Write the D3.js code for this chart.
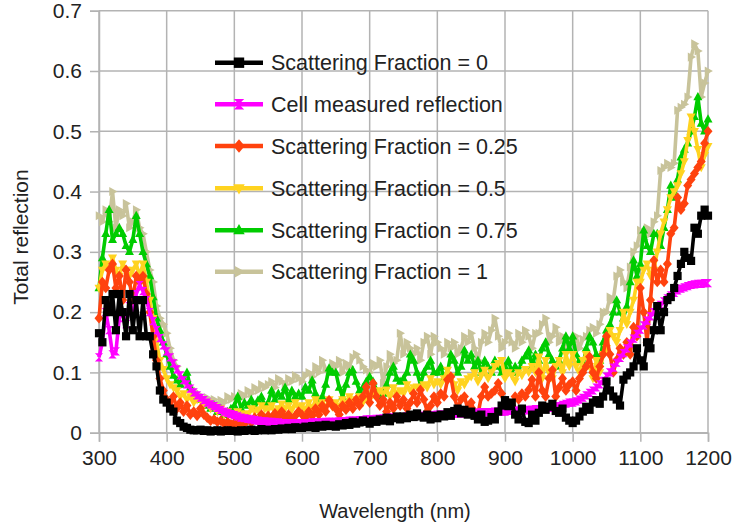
<!DOCTYPE html>
<html>
<head>
<meta charset="utf-8">
<script src="https://cdn.jsdelivr.net/npm/d3@7/dist/d3.min.js"></script>
<style>
  html, body { margin: 0; padding: 0; background: #fff; }
  svg { display: block; font-family: "Liberation Sans", Arial, sans-serif; }
</style>
</head>
<body>
<svg id="chart" width="732" height="528"></svg>
<script>
// Wavelength grid of the simulated / measured spectra (nm)
const wavelength = d3.range(300, 1201, 5);

const xTicks = [300, 400, 500, 600, 700, 800, 900, 1000, 1100, 1200];
const yTicks = [0, 0.1, 0.2, 0.3, 0.4, 0.5, 0.6, 0.7];

// Total reflection, scattering fraction = 0
const sf0 = [
  0.165,0.15,0.22,0.20,0.23,0.17,0.23,0.20,0.16,0.23,
  0.17,0.22,0.16,0.22,0.16,0.16,0.13,0.11,0.07,0.055,
  0.05,0.04,0.035,0.02,0.016,0.01,0.008,0.005,0.004,0.004,
  0.005,0.003,0.004,0.002,0.003,0.004,0.002,0.003,0.004,0.003,
  0.003,0.002,0.004,0.003,0.004,0.005,0.003,0.004,0.006,0.004,
  0.005,0.004,0.006,0.005,0.007,0.006,0.008,0.006,0.009,0.008,
  0.008,0.01,0.009,0.011,0.008,0.012,0.01,0.013,0.011,0.012,
  0.01,0.014,0.012,0.016,0.013,0.018,0.015,0.017,0.02,0.018,
  0.015,0.02,0.018,0.022,0.02,0.025,0.019,0.024,0.027,0.022,
  0.027,0.024,0.03,0.026,0.032,0.027,0.025,0.03,0.022,0.028,
  0.024,0.03,0.027,0.034,0.028,0.036,0.04,0.032,0.038,0.03,
  0.035,0.028,0.022,0.03,0.018,0.02,0.026,0.022,0.035,0.045,
  0.054,0.044,0.05,0.03,0.022,0.04,0.018,0.016,0.03,0.02,
  0.033,0.045,0.038,0.043,0.048,0.036,0.033,0.04,0.025,0.02,
  0.016,0.02,0.027,0.035,0.043,0.038,0.05,0.054,0.048,0.06,
  0.085,0.07,0.06,0.055,0.045,0.088,0.095,0.1,0.11,0.14,
  0.12,0.11,0.15,0.14,0.17,0.21,0.17,0.2,0.22,0.225,
  0.24,0.26,0.28,0.30,0.29,0.285,0.34,0.33,0.36,0.37,
  0.36
];

// Measured reflection of the cell
const measured = [
  0.125,0.15,0.2,0.17,0.13,0.135,0.19,0.2,0.18,0.21,
  0.2,0.23,0.245,0.235,0.22,0.2,0.185,0.17,0.157,0.145,
  0.135,0.125,0.115,0.105,0.095,0.087,0.08,0.073,0.067,0.062,
  0.058,0.054,0.05,0.047,0.044,0.041,0.038,0.035,0.033,0.031,
  0.029,0.027,0.025,0.024,0.023,0.022,0.021,0.02,0.019,0.019,
  0.018,0.018,0.017,0.017,0.016,0.016,0.016,0.016,0.016,0.016,
  0.016,0.016,0.016,0.017,0.017,0.017,0.017,0.018,0.018,0.018,
  0.018,0.019,0.019,0.019,0.02,0.02,0.02,0.021,0.021,0.022,
  0.022,0.022,0.023,0.023,0.024,0.024,0.025,0.025,0.025,0.026,
  0.026,0.027,0.027,0.027,0.028,0.028,0.028,0.029,0.029,0.029,
  0.03,0.03,0.03,0.031,0.031,0.031,0.032,0.032,0.032,0.033,
  0.033,0.033,0.033,0.034,0.034,0.034,0.034,0.035,0.035,0.035,
  0.035,0.036,0.036,0.036,0.037,0.037,0.037,0.038,0.038,0.039,
  0.039,0.04,0.04,0.041,0.042,0.043,0.044,0.046,0.048,0.05,
  0.05,0.052,0.055,0.058,0.062,0.066,0.07,0.075,0.08,0.086,
  0.093,0.1,0.108,0.116,0.124,0.132,0.14,0.148,0.156,0.164,
  0.171,0.178,0.186,0.193,0.2,0.206,0.212,0.218,0.223,0.228,
  0.232,0.236,0.239,0.241,0.243,0.245,0.246,0.247,0.247,0.248,
  0.248
];

// Scattering fraction = 0.25
const sf025 = [
  0.19,0.25,0.24,0.27,0.28,0.24,0.26,0.22,0.27,0.25,
  0.22,0.26,0.25,0.26,0.23,0.2,0.16,0.12,0.09,0.07,
  0.055,0.045,0.06,0.04,0.05,0.035,0.045,0.03,0.035,0.028,
  0.04,0.03,0.025,0.02,0.022,0.018,0.02,0.015,0.018,0.014,
  0.016,0.014,0.018,0.015,0.022,0.017,0.025,0.02,0.03,0.022,
  0.028,0.024,0.032,0.026,0.035,0.025,0.03,0.022,0.028,0.035,
  0.03,0.025,0.035,0.028,0.04,0.03,0.045,0.035,0.054,0.045,
  0.04,0.03,0.045,0.038,0.05,0.04,0.055,0.045,0.06,0.076,
  0.05,0.082,0.06,0.045,0.055,0.035,0.05,0.04,0.06,0.045,
  0.055,0.04,0.05,0.065,0.05,0.071,0.055,0.035,0.045,0.06,
  0.05,0.065,0.06,0.088,0.093,0.06,0.04,0.055,0.06,0.04,
  0.05,0.035,0.03,0.06,0.076,0.06,0.065,0.07,0.082,0.065,
  0.04,0.05,0.045,0.06,0.055,0.065,0.06,0.071,0.088,0.06,
  0.1,0.07,0.06,0.09,0.104,0.06,0.075,0.09,0.07,0.08,
  0.085,0.07,0.09,0.1,0.11,0.126,0.1,0.09,0.11,0.13,
  0.16,0.13,0.1,0.12,0.14,0.13,0.15,0.13,0.175,0.16,
  0.24,0.2,0.15,0.22,0.286,0.25,0.27,0.25,0.28,0.33,
  0.34,0.39,0.37,0.38,0.41,0.42,0.43,0.44,0.45,0.48,
  0.5
];

// Scattering fraction = 0.5
const sf05 = [
  0.24,0.27,0.28,0.27,0.29,0.27,0.26,0.28,0.27,0.26,
  0.27,0.28,0.26,0.28,0.25,0.22,0.19,0.15,0.12,0.105,
  0.09,0.08,0.075,0.07,0.06,0.065,0.055,0.06,0.05,0.055,
  0.054,0.045,0.05,0.04,0.043,0.035,0.04,0.03,0.035,0.03,
  0.03,0.035,0.028,0.032,0.03,0.04,0.035,0.038,0.045,0.04,
  0.038,0.045,0.035,0.04,0.048,0.04,0.045,0.038,0.05,0.042,
  0.045,0.038,0.05,0.04,0.055,0.045,0.05,0.042,0.055,0.043,
  0.05,0.043,0.055,0.048,0.06,0.05,0.055,0.06,0.05,0.06,
  0.055,0.065,0.06,0.07,0.065,0.071,0.06,0.075,0.065,0.07,
  0.065,0.08,0.07,0.075,0.076,0.07,0.08,0.075,0.09,0.08,
  0.085,0.08,0.09,0.104,0.093,0.08,0.07,0.085,0.08,0.09,
  0.093,0.1,0.085,0.095,0.104,0.09,0.1,0.11,0.115,0.12,
  0.09,0.1,0.095,0.085,0.1,0.095,0.105,0.1,0.11,0.1,
  0.126,0.09,0.12,0.1,0.09,0.11,0.12,0.1,0.13,0.11,
  0.13,0.11,0.1,0.12,0.13,0.11,0.09,0.12,0.1,0.13,
  0.14,0.17,0.16,0.15,0.17,0.2,0.18,0.2,0.22,0.25,
  0.25,0.27,0.28,0.26,0.27,0.3,0.33,0.35,0.37,0.39,
  0.4,0.41,0.43,0.45,0.485,0.524,0.5,0.47,0.44,0.46,
  0.475
];

// Scattering fraction = 0.75
const sf075 = [
  0.24,0.29,0.33,0.37,0.32,0.33,0.34,0.33,0.31,0.3,
  0.32,0.36,0.33,0.3,0.28,0.26,0.225,0.19,0.17,0.15,
  0.13,0.11,0.095,0.087,0.08,0.09,0.1,0.075,0.065,0.06,
  0.055,0.05,0.045,0.04,0.045,0.035,0.04,0.03,0.035,0.04,
  0.045,0.06,0.04,0.05,0.045,0.055,0.04,0.054,0.06,0.045,
  0.05,0.07,0.055,0.065,0.06,0.075,0.055,0.07,0.06,0.065,
  0.06,0.076,0.07,0.087,0.065,0.05,0.06,0.08,0.107,0.1,
  0.1,0.075,0.06,0.08,0.1,0.104,0.085,0.07,0.075,0.085,
  0.093,0.085,0.07,0.06,0.065,0.08,0.1,0.11,0.09,0.085,
  0.09,0.1,0.13,0.12,0.1,0.08,0.1,0.11,0.12,0.1,
  0.1,0.11,0.09,0.1,0.13,0.12,0.1,0.11,0.137,0.12,
  0.13,0.11,0.12,0.1,0.12,0.11,0.1,0.12,0.11,0.1,
  0.11,0.12,0.1,0.11,0.1,0.12,0.127,0.137,0.11,0.13,
  0.12,0.14,0.15,0.13,0.12,0.11,0.12,0.14,0.16,0.14,
  0.16,0.13,0.12,0.11,0.14,0.16,0.15,0.13,0.12,0.15,
  0.17,0.18,0.2,0.22,0.2,0.19,0.21,0.25,0.286,0.26,
  0.28,0.336,0.31,0.3,0.33,0.33,0.31,0.34,0.37,0.41,
  0.39,0.42,0.457,0.47,0.48,0.5,0.524,0.557,0.513,0.5,
  0.52
];

// Scattering fraction = 1
const sf1 = [
  0.36,0.35,0.37,0.35,0.4,0.34,0.37,0.36,0.38,0.34,
  0.35,0.37,0.34,0.33,0.3,0.27,0.25,0.21,0.19,0.18,
  0.165,0.14,0.12,0.11,0.09,0.08,0.085,0.075,0.07,0.065,
  0.06,0.055,0.058,0.05,0.055,0.048,0.054,0.05,0.06,0.055,
  0.06,0.055,0.065,0.06,0.07,0.065,0.075,0.07,0.08,0.075,
  0.08,0.085,0.075,0.09,0.085,0.08,0.09,0.085,0.095,0.09,
  0.085,0.095,0.1,0.093,0.11,0.1,0.12,0.105,0.1,0.115,
  0.11,0.12,0.1,0.115,0.11,0.125,0.13,0.12,0.11,0.104,
  0.1,0.115,0.11,0.12,0.082,0.11,0.13,0.115,0.12,0.165,
  0.13,0.15,0.14,0.13,0.14,0.12,0.15,0.16,0.13,0.16,
  0.15,0.14,0.13,0.15,0.14,0.15,0.13,0.14,0.16,0.15,
  0.165,0.14,0.12,0.15,0.165,0.15,0.17,0.19,0.16,0.14,
  0.15,0.165,0.15,0.14,0.165,0.15,0.17,0.16,0.14,0.165,
  0.165,0.18,0.19,0.15,0.16,0.175,0.15,0.16,0.14,0.155,
  0.15,0.16,0.14,0.155,0.16,0.17,0.175,0.165,0.18,0.2,
  0.2,0.225,0.22,0.26,0.27,0.25,0.24,0.275,0.3,0.31,
  0.336,0.32,0.34,0.33,0.35,0.36,0.435,0.44,0.447,0.44,
  0.447,0.535,0.54,0.545,0.557,0.623,0.645,0.633,0.557,0.58,
  0.6
];

const seriesNames = [
  "Scattering Fraction = 0",
  "Cell measured reflection",
  "Scattering Fraction = 0.25",
  "Scattering Fraction = 0.5",
  "Scattering Fraction = 0.75",
  "Scattering Fraction = 1"
];
const seriesValues = [sf0, measured, sf025, sf05, sf075, sf1];
const seriesColors = ["#000000", "#ff00ff", "#ff420e", "#ffd320", "#00cc00", "#c8c39a"];
const seriesMarkers = ["square", "hourglass", "diamond", "down", "up", "right"];

const svg = d3.select("#chart");
const x = d3.scaleLinear().domain([300, 1200]).range([99, 708]);
const y = d3.scaleLinear().domain([0, 0.7]).range([432.7, 10.7]);
const gridColor = "#b3b3b3";

// grid
svg.append("g").selectAll("line").data(xTicks).join("line")
  .attr("x1", d => x(d)).attr("x2", d => x(d))
  .attr("y1", y(0.7)).attr("y2", y(0))
  .attr("stroke", gridColor).attr("stroke-width", 1.5);
svg.append("g").selectAll("line").data(yTicks).join("line")
  .attr("x1", x(300)).attr("x2", x(1200))
  .attr("y1", d => y(d)).attr("y2", d => y(d))
  .attr("stroke", gridColor).attr("stroke-width", 1.5);

// axes
const xAxis = d3.axisBottom(x).tickValues(xTicks).tickSize(9).tickPadding(8).tickFormat(d3.format("d"));
const yAxis = d3.axisLeft(y).tickValues(yTicks).tickSize(9).tickPadding(8).tickFormat(d => d === 0 ? "0" : d3.format(".1f")(d));

const gx = svg.append("g").attr("transform", `translate(0,${y(0)})`).call(xAxis);
const gy = svg.append("g").attr("transform", `translate(${x(300)},0)`).call(yAxis);
[gx, gy].forEach(g => {
  g.select(".domain").attr("stroke", gridColor).attr("stroke-width", 1.5);
  g.selectAll(".tick line").attr("stroke", gridColor).attr("stroke-width", 1.5);
  g.selectAll(".tick text").attr("fill", "#222").style("font-size", "21px")
    .style("font-family", "'Liberation Sans', Arial, sans-serif");
});

// axis titles
svg.append("text").attr("x", 395).attr("y", 518).attr("text-anchor", "middle")
  .attr("fill", "#222").style("font-size", "20px").text("Wavelength (nm)");
svg.append("text").attr("transform", "translate(28,237) rotate(-90)").attr("text-anchor", "middle")
  .attr("fill", "#222").style("font-size", "21px").text("Total reflection");

// marker paths
function markerPath(kind, s) {
  switch (kind) {
    case "square": return `M${-s},${-s}H${s}V${s}H${-s}Z`;
    case "diamond": return `M0,${-s * 1.3}L${s * 1.1},0L0,${s * 1.3}L${-s * 1.1},0Z`;
    case "up": return `M0,${-s * 1.2}L${s * 1.1},${s * 0.8}L${-s * 1.1},${s * 0.8}Z`;
    case "down": return `M0,${s * 1.2}L${s * 1.1},${-s * 0.8}L${-s * 1.1},${-s * 0.8}Z`;
    case "right": return `M${s * 1.2},0L${-s * 0.8},${s * 1.1}L${-s * 0.8},${-s * 1.1}Z`;
    case "hourglass": return `M${-s},${-s}L${s},${-s}L${-s},${s}L${s},${s}Z`;
  }
}

const line = d3.line().x((d, i) => x(wavelength[i])).y(d => y(d));

// series: draw the last one first so the black curve sits on top
const plot = svg.append("g");
for (let k = seriesValues.length - 1; k >= 0; k--) {
  const vals = seriesValues[k];
  const g = plot.append("g");
  g.append("path").datum(vals).attr("d", line)
    .attr("fill", "none").attr("stroke", seriesColors[k])
    .attr("stroke-width", 3.6).attr("stroke-linejoin", "round");
  g.selectAll("path.m").data(vals).join("path").attr("class", "m")
    .attr("transform", (d, i) => `translate(${x(wavelength[i])},${y(d)})`)
    .attr("d", markerPath(seriesMarkers[k], 4.1))
    .attr("fill", seriesColors[k]);
}

// legend
const legendY = [62.7, 104.3, 146, 188.3, 230.2, 271.7];
const leg = svg.append("g");
seriesNames.forEach((name, k) => {
  const gy0 = legendY[k];
  leg.append("line").attr("x1", 215).attr("x2", 263).attr("y1", gy0).attr("y2", gy0)
    .attr("stroke", seriesColors[k]).attr("stroke-width", 4.5);
  leg.append("path").attr("transform", `translate(239,${gy0})`)
    .attr("d", markerPath(seriesMarkers[k], 5.2)).attr("fill", seriesColors[k]);
  leg.append("text").attr("x", 271).attr("y", gy0).attr("dy", "0.36em")
    .attr("fill", "#222").style("font-size", "21.5px").text(name);
});
</script>
</body>
</html>
